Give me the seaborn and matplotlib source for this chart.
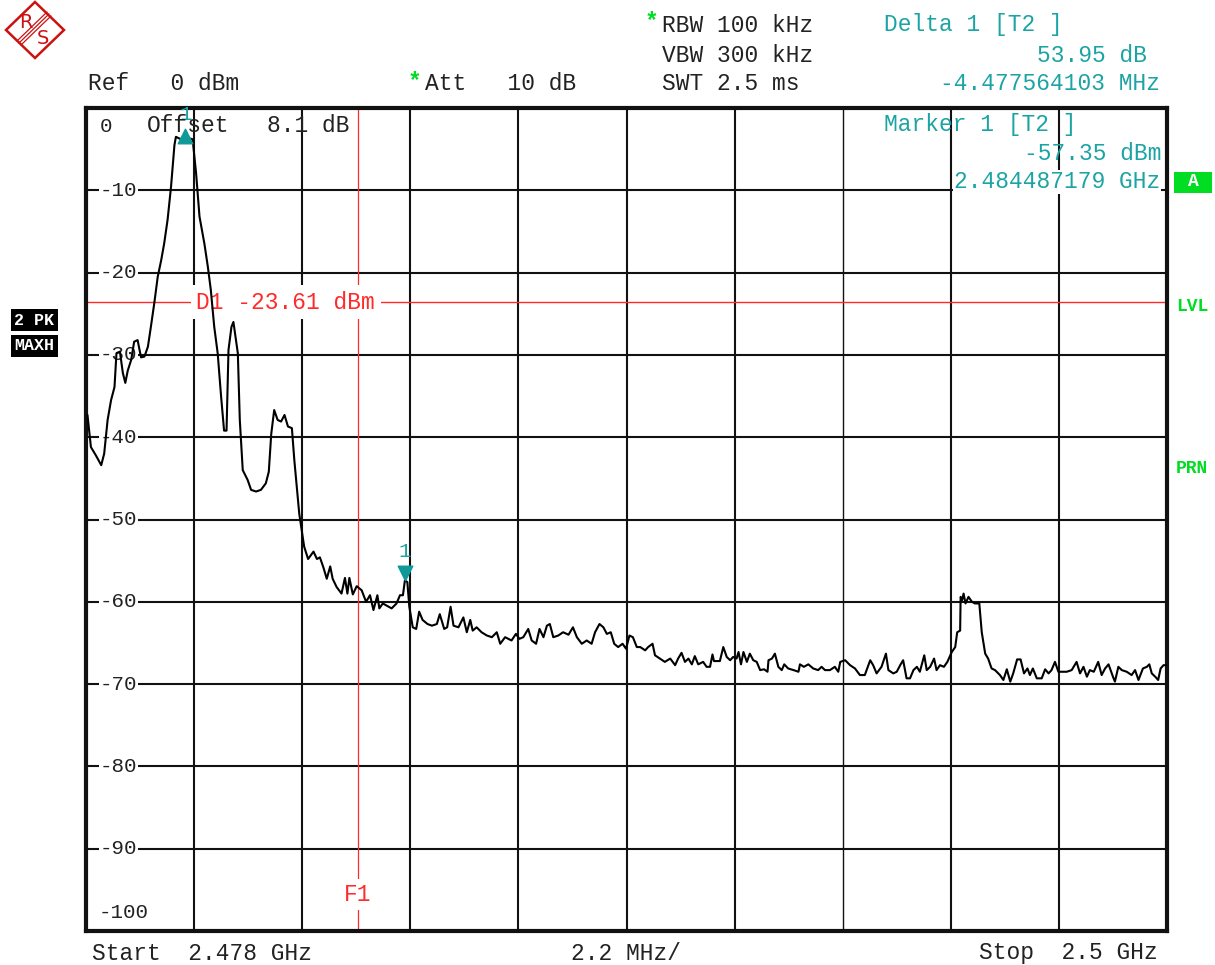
import matplotlib.pyplot as plt
import pandas as pd
import seaborn as sns
from matplotlib.patches import Polygon, Rectangle

# trace (MHz, dBm)
freq_mhz = [
    2478.03, 2478.10, 2478.20, 2478.31, 2478.37, 2478.44, 2478.51, 2478.58, 2478.62, 2478.69,
    2478.75, 2478.80, 2478.85, 2478.92, 2478.98, 2479.05, 2479.12, 2479.19, 2479.26, 2479.32,
    2479.39, 2479.46, 2479.53, 2479.59, 2479.66, 2479.73, 2479.80, 2479.83, 2479.93, 2480.04,
    2480.17, 2480.24, 2480.31, 2480.41, 2480.48, 2480.54, 2480.61, 2480.68, 2480.75, 2480.81,
    2480.86, 2480.90, 2480.96, 2481.00, 2481.09, 2481.13, 2481.19, 2481.29, 2481.36, 2481.46,
    2481.56, 2481.66, 2481.72, 2481.77, 2481.83, 2481.90, 2481.97, 2482.04, 2482.11, 2482.19,
    2482.24, 2482.29, 2482.34, 2482.39, 2482.44, 2482.52, 2482.63, 2482.70, 2482.76, 2482.83,
    2482.90, 2482.97, 2483.02, 2483.10, 2483.20, 2483.27, 2483.32, 2483.36, 2483.43, 2483.51,
    2483.61, 2483.70, 2483.78, 2483.85, 2483.93, 2483.97, 2484.04, 2484.13, 2484.22, 2484.32,
    2484.39, 2484.45, 2484.49, 2484.54, 2484.58, 2484.65, 2484.72, 2484.78, 2484.85, 2484.95,
    2485.04, 2485.14, 2485.20, 2485.29, 2485.35, 2485.42, 2485.48, 2485.58, 2485.68, 2485.75,
    2485.82, 2485.87, 2485.95, 2486.05, 2486.16, 2486.26, 2486.36, 2486.43, 2486.53, 2486.66,
    2486.75, 2486.82, 2486.90, 2487.00, 2487.07, 2487.16, 2487.23, 2487.31, 2487.38, 2487.44,
    2487.51, 2487.61, 2487.71, 2487.82, 2487.91, 2487.99, 2488.09, 2488.19, 2488.29, 2488.36,
    2488.45, 2488.53, 2488.60, 2488.68, 2488.75, 2488.83, 2488.92, 2488.99, 2489.06, 2489.13,
    2489.21, 2489.28, 2489.38, 2489.44, 2489.53, 2489.58, 2489.68, 2489.78, 2489.89, 2489.99,
    2490.05, 2490.12, 2490.19, 2490.26, 2490.33, 2490.39, 2490.46, 2490.56, 2490.63, 2490.70,
    2490.75, 2490.78, 2490.90, 2490.97, 2491.04, 2491.11, 2491.17, 2491.24, 2491.28, 2491.33,
    2491.38, 2491.45, 2491.51, 2491.58, 2491.65, 2491.72, 2491.80, 2491.87, 2491.89, 2491.96,
    2492.02, 2492.09, 2492.16, 2492.21, 2492.29, 2492.40, 2492.50, 2492.53, 2492.61, 2492.70,
    2492.80, 2492.90, 2492.97, 2493.04, 2493.14, 2493.24, 2493.31, 2493.35, 2493.45, 2493.55,
    2493.65, 2493.75, 2493.85, 2493.96, 2494.02, 2494.09, 2494.19, 2494.28, 2494.33, 2494.43,
    2494.50, 2494.57, 2494.63, 2494.70, 2494.77, 2494.84, 2494.91, 2494.97, 2495.06, 2495.11,
    2495.18, 2495.26, 2495.31, 2495.38, 2495.46, 2495.53, 2495.62, 2495.69, 2495.73, 2495.79,
    2495.80, 2495.83, 2495.86, 2495.90, 2495.96, 2496.03, 2496.09, 2496.18, 2496.23, 2496.30,
    2496.36, 2496.43, 2496.50, 2496.60, 2496.67, 2496.74, 2496.81, 2496.87, 2496.95, 2497.02,
    2497.09, 2497.16, 2497.21, 2497.27, 2497.35, 2497.45, 2497.52, 2497.59, 2497.65, 2497.72,
    2497.79, 2497.86, 2497.96, 2498.06, 2498.16, 2498.23, 2498.30, 2498.37, 2498.43, 2498.51,
    2498.60, 2498.67, 2498.74, 2498.81, 2498.90, 2498.94, 2499.01, 2499.08, 2499.18, 2499.28,
    2499.35, 2499.42, 2499.51, 2499.59, 2499.64, 2499.69, 2499.76, 2499.82, 2499.87, 2499.93,
    2499.98,
]
level_dbm = [
    -37.3, -41.2, -42.2, -43.4, -42.0, -37.9, -35.5, -33.9, -29.8, -29.6,
    -32.2, -33.4, -31.9, -30.6, -28.4, -28.2, -30.3, -30.2, -29.0, -26.6,
    -23.7, -20.5, -18.5, -16.5, -13.6, -9.6, -4.5, -3.5, -3.8, -3.6,
    -3.8, -7.9, -13.2, -16.5, -19.3, -22.1, -26.6, -29.8, -35.1, -39.2,
    -39.2, -29.4, -26.6, -26.0, -29.8, -37.9, -44.0, -45.2, -46.4, -46.6,
    -46.4, -45.6, -44.2, -39.6, -36.7, -37.9, -38.1, -37.3, -38.7, -38.9,
    -42.8, -46.0, -49.3, -51.3, -53.3, -54.8, -53.9, -54.8, -54.6, -55.8,
    -57.2, -55.7, -57.2, -58.2, -59.0, -57.1, -59.0, -57.1, -59.1, -58.1,
    -58.6, -60.0, -59.2, -61.0, -59.2, -60.8, -60.2, -60.5, -60.8, -60.2,
    -59.2, -59.2, -57.4, -57.6, -60.6, -63.1, -63.3, -61.2, -62.2, -62.7,
    -62.9, -62.7, -61.5, -63.3, -63.1, -60.6, -62.9, -63.1, -61.9, -63.7,
    -62.2, -63.5, -63.1, -63.7, -64.1, -64.3, -63.7, -65.1, -64.3, -64.7,
    -63.9, -64.5, -64.3, -63.3, -64.7, -65.1, -63.3, -64.3, -62.9, -62.7,
    -64.3, -64.1, -63.7, -64.0, -63.1, -64.3, -65.1, -64.7, -65.1, -63.7,
    -62.7, -63.1, -63.9, -63.7, -65.1, -65.5, -65.1, -65.7, -64.1, -64.3,
    -65.5, -65.5, -65.9, -65.5, -65.1, -66.5, -66.9, -67.3, -66.9, -67.7,
    -66.9, -66.2, -67.3, -66.9, -67.6, -66.6, -67.6, -67.3, -67.9, -67.9,
    -66.4, -67.2, -67.2, -65.5, -66.7, -67.1, -66.7, -66.9, -66.1, -67.6,
    -66.1, -67.3, -66.3, -67.1, -67.3, -68.3, -68.2, -68.5, -67.1, -66.9,
    -66.3, -67.9, -68.3, -67.6, -68.1, -68.3, -68.5, -67.6, -67.9, -67.6,
    -68.1, -68.3, -67.9, -68.3, -68.3, -67.9, -68.5, -67.3, -67.1, -67.7,
    -68.1, -68.9, -68.9, -67.1, -67.7, -68.7, -67.9, -66.3, -68.3, -68.7,
    -68.5, -67.7, -67.1, -69.3, -69.3, -68.3, -67.9, -68.5, -66.5, -68.3,
    -67.9, -66.9, -68.3, -67.7, -67.9, -67.3, -66.1, -65.5, -63.7, -63.5,
    -59.4, -59.8, -59.0, -60.2, -59.4, -60.0, -60.2, -60.2, -63.7, -66.3,
    -66.9, -68.1, -68.3, -68.9, -69.5, -68.2, -69.7, -68.7, -67.0, -67.0,
    -68.7, -68.1, -68.9, -68.1, -69.3, -69.3, -68.2, -68.7, -68.3, -67.3,
    -68.5, -68.5, -68.5, -68.3, -67.3, -68.7, -67.9, -69.1, -68.3, -68.5,
    -67.3, -68.9, -68.1, -67.6, -69.1, -69.7, -67.9, -68.3, -68.5, -68.9,
    -68.3, -69.5, -68.1, -67.9, -67.6, -68.7, -69.1, -69.5, -68.1, -67.7,
    -67.7,
]

start_mhz = 2478.0
span_per_div = 2.2
y_labels = ["0", "-10", "-20", "-30", "-40", "-50", "-60", "-70", "-80", "-90", "-100"]

marker1_freq = 2484.487179
marker1_level = -57.35
delta_db = 53.95
delta_mhz = -4.477564103
d1_level = -23.61
f1_freq = 2483.53

W, H = 1215, 965
TEAL = "#1ca3a3"
RED = "#ff2a2a"
GREEN = "#00dd22"
MONO = ["Liberation Mono", "DejaVu Sans Mono"]
FS = 16.5

sns.set_style("white")
plt.rcParams["font.family"] = MONO

fig = plt.figure(figsize=(W / 100, H / 100), dpi=100)


def px(x, y):
    return x / W, 1 - y / H


def ftext(x, y, s, **kw):
    kw.setdefault("fontsize", FS)
    kw.setdefault("color", "#222222")
    kw.setdefault("va", "center")
    fig.text(*px(x, y), s, **kw)


ax = fig.add_axes([86 / W, 1 - 931 / H, (1167 - 86) / W, (931 - 108) / H])
ax.set_xlim(start_mhz, start_mhz + 10 * span_per_div)
ax.set_ylim(-100, 0)
ax.set_xticks([])
ax.set_yticks([])
for sp in ax.spines.values():
    sp.set_linewidth(3)
    sp.set_color("#111111")

for i in range(1, 10):
    lw = 1.0 if i == 7 else 1.5
    ax.axvline(start_mhz + i * span_per_div, color="#111111", lw=lw, zorder=1)
for i in range(1, 10):
    ax.axhline(-10 * i, color="#111111", lw=1.5, zorder=1)

# level labels sitting on the grid lines
for i, lab in enumerate(y_labels):
    if i == 0:
        ftext(100, 127, lab, ha="left", fontsize=15)
    elif i == 10:
        ftext(99, 912, lab, ha="left", fontsize=15)
    else:
        ax.text(0.013, -10 * i, lab, transform=ax.get_yaxis_transform(), ha="left",
                va="center", fontsize=15, color="#222222", zorder=2,
                bbox=dict(facecolor="white", edgecolor="none", pad=0.5))

# display line D1 and frequency line F1
ax.axhline(d1_level, color=RED, lw=1, zorder=2)
ax.text(0.102, d1_level, "D1 -23.61 dBm", transform=ax.get_yaxis_transform(),
        ha="left", va="center", fontsize=FS, color=RED, zorder=3,
        bbox=dict(facecolor="white", edgecolor="none", pad=4))
ax.axvline(f1_freq, color=RED, lw=0.9, zorder=2)
ax.text(f1_freq, -95.6, "F1", ha="center", va="center", fontsize=FS, color=RED,
        zorder=3, bbox=dict(facecolor="white", edgecolor="none", pad=3))

trace = pd.DataFrame({"freq": freq_mhz, "level": level_dbm})
sns.lineplot(data=trace, x="freq", y="level", color="black", lw=1.5, ax=ax, zorder=4)
ax.set_xlabel("")
ax.set_ylabel("")

# markers
ref_freq = marker1_freq + delta_mhz
ref_level = marker1_level + delta_db
ax.scatter([ref_freq], [ref_level], marker="^", s=110, color="#0f9a9a", zorder=5)
ax.text(ref_freq + 0.02, ref_level + 2.6, "1", color=TEAL, fontsize=15, ha="center", va="center", zorder=5)
ax.scatter([marker1_freq], [marker1_level + 0.9], marker="v", s=110, color="#0f9a9a", zorder=5)
ax.text(marker1_freq, marker1_level + 3.5, "1", color=TEAL, fontsize=15, ha="center", va="center", zorder=5)

ftext(147, 125, "Offset", ha="left")
ftext(267, 125, "8.1 dB", ha="left")

# header text
ftext(88, 84, "Ref   0 dBm", ha="left")
ftext(408, 82, "*", ha="left", color=GREEN, fontweight="bold")
ftext(425, 84, "Att   10 dB", ha="left")
ftext(645, 22, "*", ha="left", color=GREEN, fontweight="bold")
ftext(662, 25, "RBW 100 kHz", ha="left")
ftext(662, 55, "VBW 300 kHz", ha="left")
ftext(662, 84, "SWT 2.5 ms", ha="left")

ftext(884, 25, "Delta 1 [T2 ]", ha="left", color=TEAL)
ftext(1147, 55, f"{delta_db:.2f} dB", ha="right", color=TEAL)
ftext(1160, 84, f"{delta_mhz:.9f} MHz", ha="right", color=TEAL)
ftext(884, 124, "Marker 1 [T2 ]", ha="left", color=TEAL)
ftext(1162, 153, f"{marker1_level:.2f} dBm", ha="right", color=TEAL)
fig.text(*px(1160, 182), f"{marker1_freq / 1000:.9f} GHz", ha="right", va="center",
         fontsize=FS, color=TEAL, bbox=dict(facecolor="white", edgecolor="none", pad=0.5))

# footer
ftext(92, 953, "Start  2.478 GHz", ha="left")
ftext(571, 953, "2.2 MHz/", ha="left")
ftext(1158, 953, "Stop  2.5 GHz", ha="right")

# side badges
fig.text(*px(14, 320), "2 PK", ha="left", va="center", fontsize=12, color="white",
         fontweight="bold", bbox=dict(facecolor="black", edgecolor="none", pad=2.5))
fig.text(*px(14, 346), "MAXH", ha="left", va="center", fontsize=12, color="white",
         fontweight="bold", bbox=dict(facecolor="black", edgecolor="none", pad=2.5))
badge = Rectangle(px(1174, 193), 38 / W, 21 / H, transform=fig.transFigure,
                  facecolor=GREEN, edgecolor="none")
fig.patches.append(badge)
ftext(1193, 182, "A", ha="center", fontsize=13, color="white", fontweight="bold")
ftext(1176, 306, "LVL", ha="left", color=GREEN, fontweight="bold", fontsize=13)
ftext(1176, 468, "PRN", ha="left", color=GREEN, fontweight="bold", fontsize=13)

# R&S logo
logo_red = "#cc1111"
diamond = Polygon([px(35, 2), px(64, 30), px(35, 58), px(6, 30)], closed=True,
                  fill=False, edgecolor=logo_red, lw=1.8, transform=fig.transFigure)
fig.patches.append(diamond)
for off in (-2, 0, 2):
    a, b = px(19 + off, 43 + off), px(49 + off, 14 + off)
    fig.lines.append(plt.Line2D([a[0], b[0]], [a[1], b[1]], transform=fig.transFigure,
                                color=logo_red, lw=0.9))
fig.text(*px(26, 22), "R", ha="center", va="center", fontsize=14, color=logo_red,
         family=["DejaVu Sans"])
fig.text(*px(43, 38), "S", ha="center", va="center", fontsize=14, color=logo_red,
         family=["DejaVu Sans"])

fig.savefig("out.png", dpi=100)
